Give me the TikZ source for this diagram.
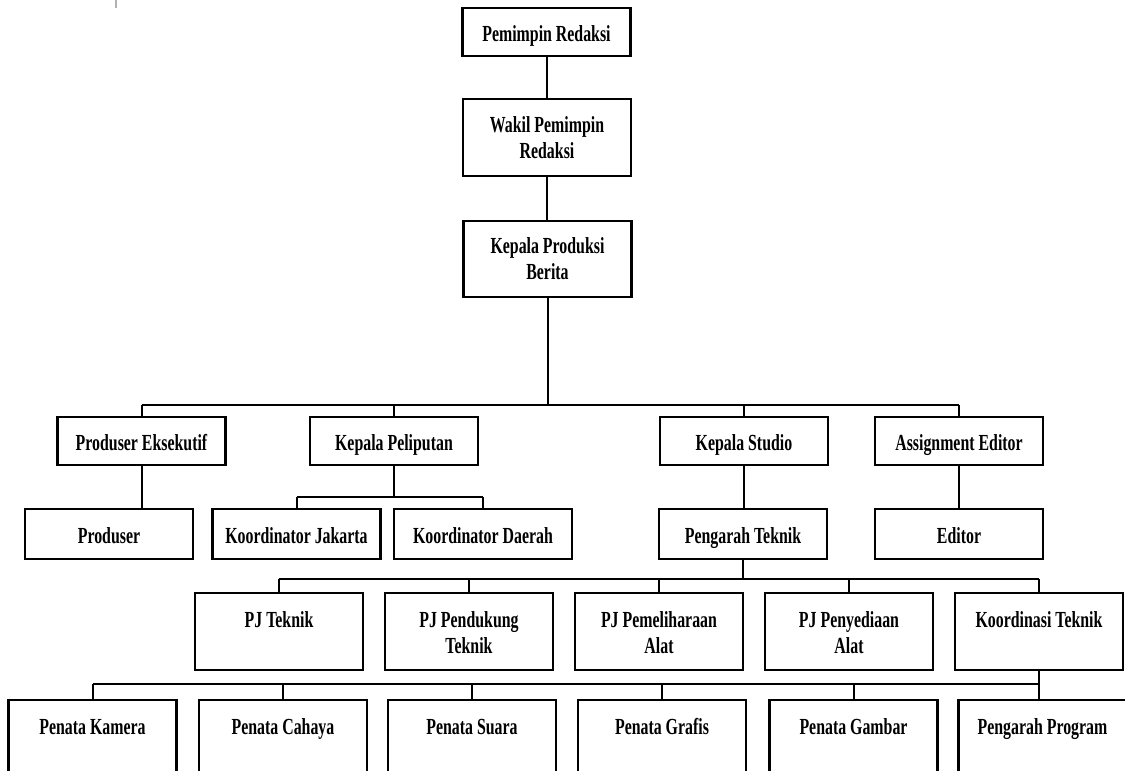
\documentclass[tikz,border=0pt]{standalone}
\usepackage{fontspec}
\setmainfont{Liberation Serif}[FakeStretch=0.69]
\usetikzlibrary{positioning}

\begin{document}
\begin{tikzpicture}[x=0.5pt,y=-0.5pt,
    unit/.style={draw, line width=1.2pt, inner sep=0pt, minimum width=84pt,
      align=center, font=\fontsize{11.5}{13}\selectfont\bfseries},
    onerow/.style={unit, minimum height=#1, text height=9pt, text depth=0pt},
    tworow/.style={unit, minimum height=#1},
    tallbox/.style={unit, text height=17pt, text depth=21.5pt},
    tallbox2/.style={unit, text height=30pt, text depth=8.5pt},
    link/.style={line width=1pt}]

    \useasboundingbox (0,0) rectangle (1125,771);
    \clip (0,0) rectangle (1125,771);
    \draw[gray!60, line width=0.6pt] (116,0) -- (116,8);

    % pimpinan
    \node[onerow=24pt] (pr) at (546.5,32) {Pemimpin Redaksi};
    \node[tworow=38.5pt] (wpr) at (547,137.5) {Wakil Pemimpin\\Redaksi};
    \node[tworow=38pt] (kpb) at (547.5,259) {Kepala Produksi\\Berita};

    % bagian
    \node[onerow=24pt] (pe) at (141.5,441) {Produser Eksekutif};
    \node[onerow=24pt] (kp) at (394,441) {Kepala Peliputan};
    \node[onerow=24pt] (ks) at (744,441) {Kepala Studio};
    \node[onerow=24pt] (ae) at (959,441) {Assignment Editor};

    \node[onerow=25pt] (prod) at (109,534) {Produser};
    \node[onerow=25pt] (kj) at (296.5,534) {Koordinator Jakarta};
    \node[onerow=25pt, minimum width=89pt] (kd) at (483,534) {Koordinator Daerah};
    \node[onerow=25pt] (pt) at (743,534) {Pengarah Teknik};
    \node[onerow=25pt] (ed) at (959,534) {Editor};

    % teknik
    \node[tallbox] (pjt) at (279,631.5) {PJ Teknik};
    \node[tallbox2] (pjp) at (469,631.5) {PJ Pendukung\\Teknik};
    \node[tallbox2] (pjm) at (659,631.5) {PJ Pemeliharaan\\Alat};
    \node[tallbox2] (pjs) at (849,631.5) {PJ Penyediaan\\Alat};
    \node[tallbox] (ko) at (1039,631.5) {Koordinasi Teknik};

    \node[tallbox] (kam) at (92.5,738.5) {Penata Kamera};
    \node[tallbox] (cah) at (283,738.5) {Penata Cahaya};
    \node[tallbox] (sua) at (472,738.5) {Penata Suara};
    \node[tallbox] (gra) at (662,738.5) {Penata Grafis};
    \node[tallbox] (gam) at (853.5,738.5) {Penata Gambar};
    \node[tallbox] (pp) at (1042.5,738.5) {Pengarah Program};

    \coordinate (bus1) at (546,405);
    \coordinate (bus2) at (389,497);
    \coordinate (bus3) at (745,579);
    \coordinate (bus4) at (1046,684);

    \draw[link] (pr.south) -- (pr.south |- wpr.north);
    \draw[link] (wpr.south) -- (wpr.south |- kpb.north);
    \draw[link] (kpb.south) -- (kpb.south |- bus1);
    \draw[link] (pe.north |- bus1) -- (ae.north |- bus1);
    \foreach \n in {pe,kp,ks,ae}
        \draw[link] (\n.north) -- (\n.north |- bus1);

    \draw[link] (pe.south) -- (pe.south |- prod.north);
    \draw[link] (kp.south) -- (kp.south |- bus2);
    \draw[link] (kj.north |- bus2) -- (kd.north |- bus2);
    \foreach \n in {kj,kd}
        \draw[link] (\n.north) -- (\n.north |- bus2);
    \draw[link] (ks.south) -- (ks.south |- pt.north);
    \draw[link] (ae.south) -- (ae.south |- ed.north);

    \draw[link] (pt.south) -- (pt.south |- bus3);
    \draw[link] (pjt.north |- bus3) -- (ko.north |- bus3);
    \foreach \n in {pjt,pjp,pjm,pjs,ko}
        \draw[link] (\n.north) -- (\n.north |- bus3);

    \draw[link] (ko.south) -- (ko.south |- pp.north);
    \draw[link] (kam.north |- bus4) -- (ko.south |- bus4);
    \foreach \n in {kam,cah,sua,gra,gam}
        \draw[link] (\n.north) -- (\n.north |- bus4);

\end{tikzpicture}
\end{document}
